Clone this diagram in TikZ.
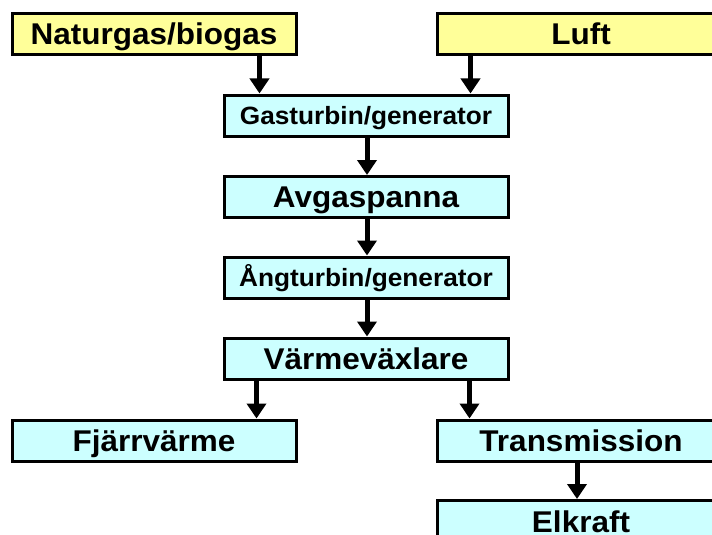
\documentclass[tikz,border=0pt]{standalone}
\usepackage{fontspec}
\setmainfont{Liberation Sans}[FakeStretch=1.05]
\usetikzlibrary{arrows.meta}
\definecolor{fuelyellow}{HTML}{FFFF99}
\definecolor{stagecyan}{HTML}{CCFFFF}
\begin{document}
\begin{tikzpicture}[x=1pt,y=-1pt,
  box/.style={draw=black, line width=3pt, minimum height=41pt, inner sep=0pt,
    font=\bfseries\fontsize{30}{34}\selectfont, text height=21.5pt, text depth=0pt},
  inbox/.style={box, fill=fuelyellow},
  stagebox/.style={box, fill=stagecyan, minimum width=284pt},
  smalltext/.style={font=\bfseries\fontsize{25}{29}\selectfont, text height=17.9pt},
  flow/.style={line width=5pt, -{Triangle[width=19pt,length=15pt]}}]
\useasboundingbox (0,0) rectangle (712,535);

% inputs
\node[inbox, minimum width=284pt] (nat)  at (154,34) {Naturgas/biogas};
\node[inbox, minimum width=288pt] (luft) at (581,34) {Luft};

% central chain
\node[stagebox, smalltext] (gas)  at (366,115.5) {Gasturbin/generator};
\node[stagebox]            (avg)  at (366,197)   {Avgaspanna};
\node[stagebox, smalltext] (ang)  at (366,277.5) {Ångturbin/generator};
\node[stagebox]            (varm) at (366,358.5) {Värmeväxlare};

% outputs
\node[stagebox]                      (fjv)   at (154,440.5) {Fjärrvärme};
\node[stagebox, minimum width=288pt] (trans) at (581,440.5) {Transmission};
\node[stagebox, minimum width=288pt, minimum height=43pt] (elk) at (581,522) {Elkraft};

% connectors
\draw[flow] ([xshift=-38pt]nat.south east) -- ([xshift=-38pt]nat.south east |- gas.north);
\draw[flow] ([xshift=35pt]luft.south west) -- ([xshift=35pt]luft.south west |- gas.north);
\draw[flow] ([xshift=1pt]gas.south) -- ([xshift=1pt]avg.north);
\draw[flow] ([xshift=1pt]avg.south) -- ([xshift=1pt]ang.north);
\draw[flow] ([xshift=1pt]ang.south) -- ([xshift=1pt]varm.north);
\draw[flow] ([xshift=34pt]varm.south west) -- ([xshift=34pt]varm.south west |- fjv.north);
\draw[flow] ([xshift=-40pt]varm.south east) -- ([xshift=-40pt]varm.south east |- trans.north);
\draw[flow] ([xshift=-4pt]trans.south) -- ([xshift=-4pt]elk.north);
\end{tikzpicture}
\end{document}
